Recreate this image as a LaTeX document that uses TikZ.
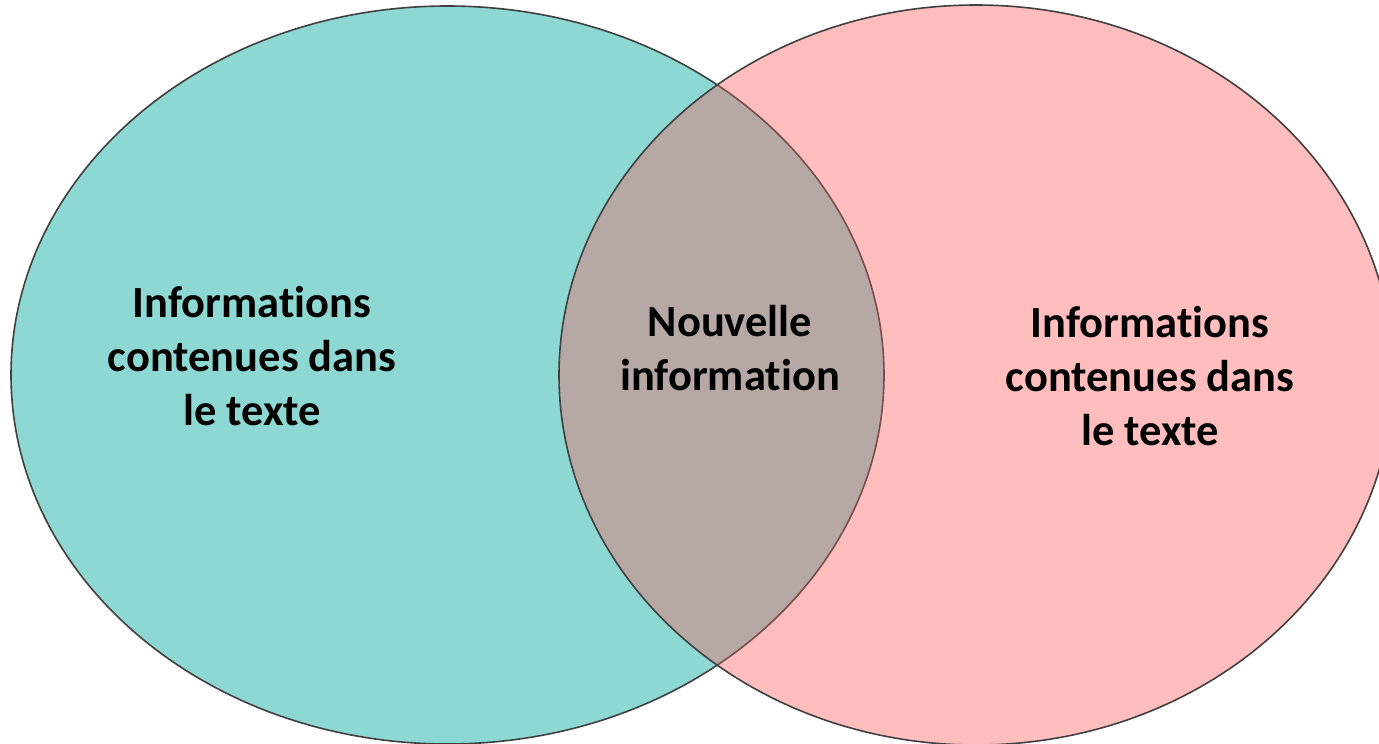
\documentclass[tikz,border=0pt]{standalone}
\usepackage{fontspec}
\setmainfont{Carlito}[Ligatures=NoCommon]
\usepackage{tikz}
\usetikzlibrary{positioning}

\definecolor{tealfill}{HTML}{8ED8D3}
\definecolor{pinkfill}{HTML}{FFBDBD}
\definecolor{mixfill}{HTML}{B6A8A4}
\definecolor{rimgray}{HTML}{404040}
\definecolor{rimred}{HTML}{7A4C4C}

\begin{document}
\begin{tikzpicture}[x=1pt, y=-1pt,
  venn text/.style={align=center, font=\bfseries\fontsize{44.5}{54}\selectfont, inner sep=0pt},
  rim/.style={draw=rimgray, line width=1.6pt}]

\useasboundingbox (0,0) rectangle (1379,744);

% two sets
\fill[tealfill] (447.5,375) ellipse [x radius=436.5, y radius=369];
\fill[pinkfill] (976,375) ellipse [x radius=417, y radius=370];
\begin{scope}
  \clip (976,375) ellipse [x radius=417, y radius=370];
  \fill[mixfill] (447.5,375) ellipse [x radius=436.5, y radius=369];
  \draw[rimred, line width=1.6pt] (447.5,375) ellipse [x radius=436.5, y radius=369];
\end{scope}
\begin{scope}
  \clip (0,0) rectangle (1379,744) (976,375) ellipse [x radius=417, y radius=370];
  \draw[rim] (447.5,375) ellipse [x radius=436.5, y radius=369];
\end{scope}
\draw[rim] (976,375) ellipse [x radius=417, y radius=370];

\node[venn text] (left) at (252,356) {Informations\\contenues dans\\le texte};
\node[venn text] (middle) at (730,348) {Nouvelle\\information};
\node[venn text] (right) at (1150,376) {Informations\\contenues dans\\le texte};

\end{tikzpicture}
\end{document}
